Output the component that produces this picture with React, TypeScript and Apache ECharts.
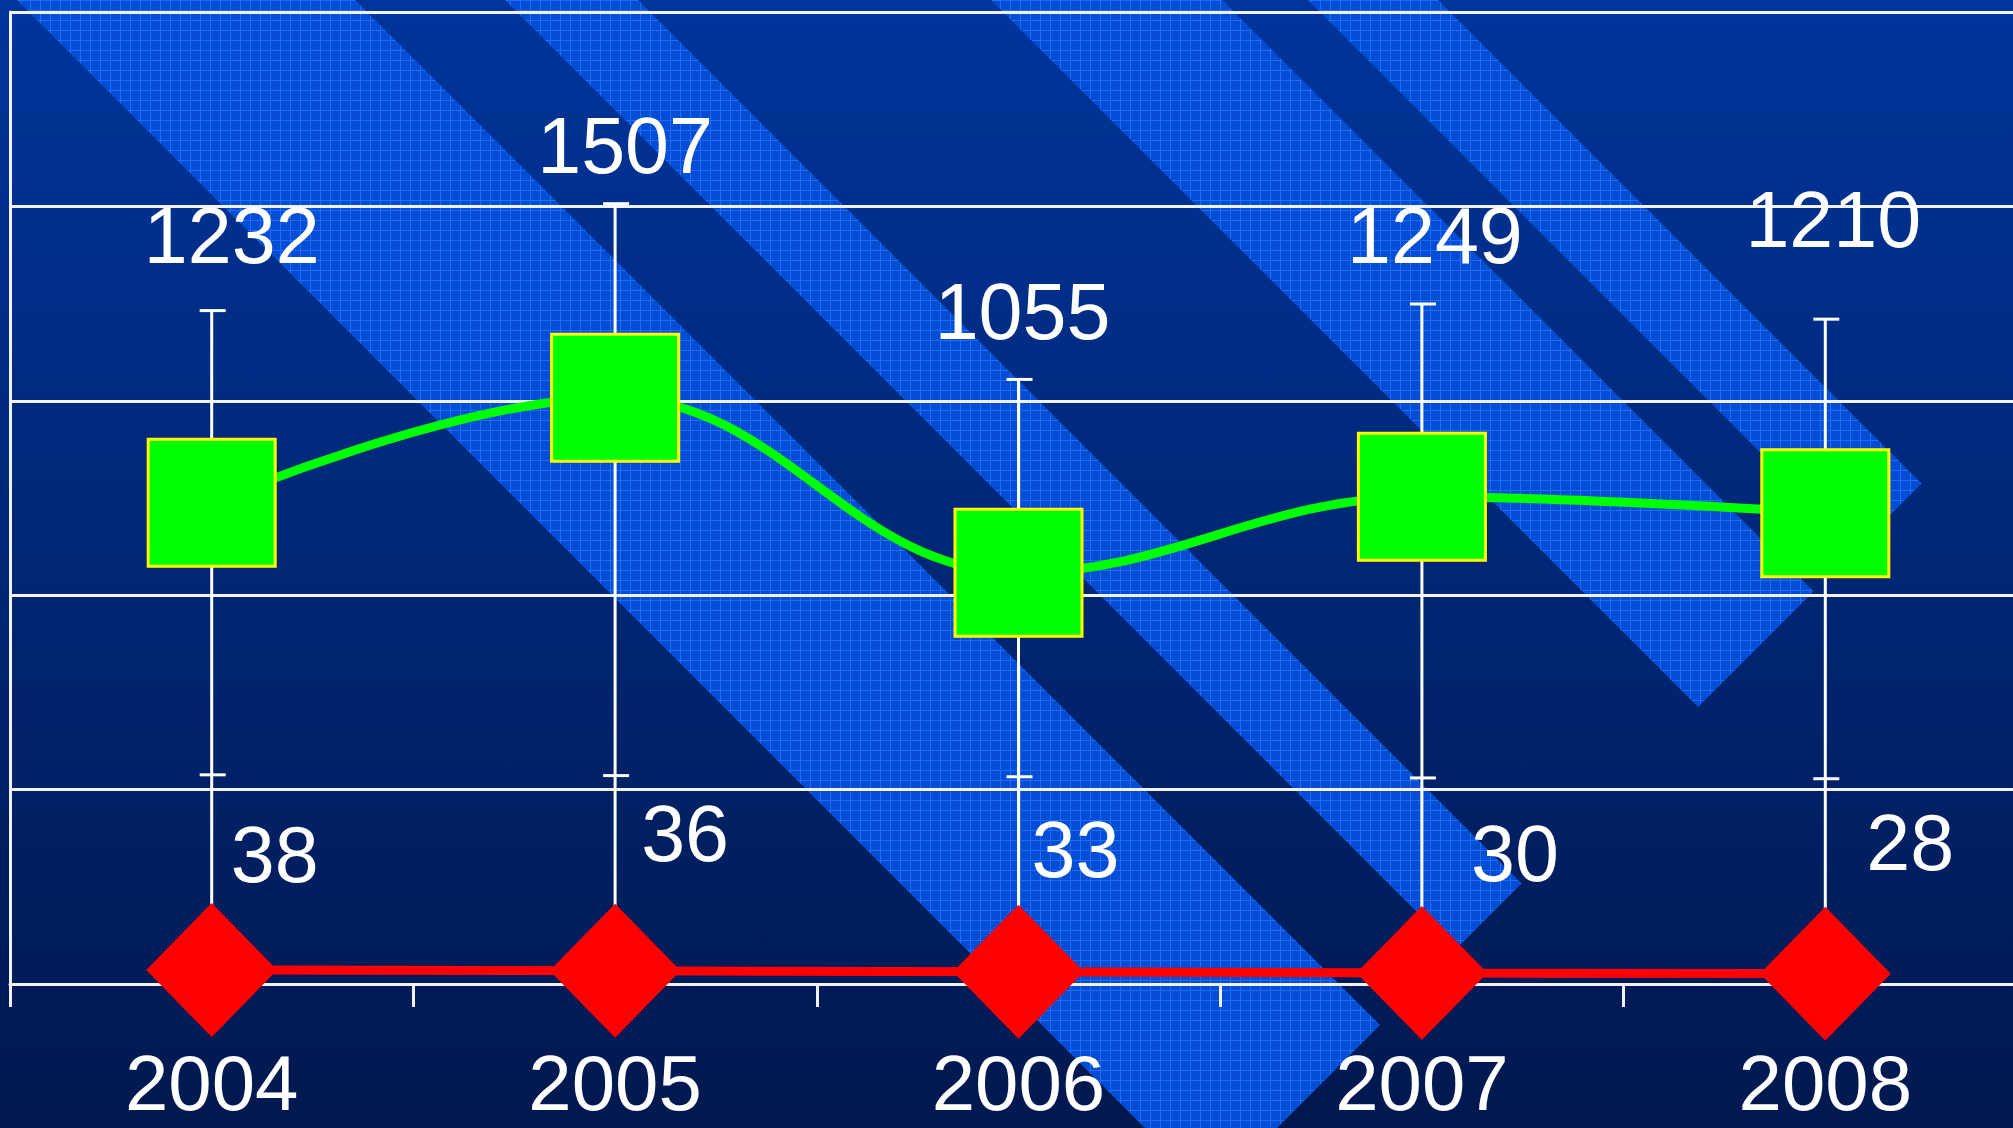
import React, { useEffect, useRef } from "react";
import * as echarts from "echarts";

// ---- data ----
const categories = ["2004", "2005", "2006", "2007", "2008"];
const highValues = [1232, 1507, 1055, 1249, 1210];
const lowValues = [38, 36, 33, 30, 28];
const greenValues = [738, 1008, 558, 753, 711];
const redValues = [38, 36, 33, 30, 28];
const yMin = -500;
const yMax = 2000;
const yInterval = 500;
const y2Max = 2640;

// ---- label layout (pixel offsets from each point) ----
const highLabelOffsets = [
  [20, -75],
  [10, -58],
  [4, -68],
  [13, -68],
  [8, -100],
];
const redLabelOffsets = [
  [63, -116],
  [70, -137],
  [57, -122],
  [93, -119],
  [85, -131],
];

// ---- decorative background stripes (x - y bands, cut at x + y = S) ----
const stripeBands = [
  [17, 355],
  [505, 638],
  [991, 1222],
  [1308, 1438],
];
const stripeCut = 2405;

function makeTile(): string {
  const c = document.createElement("canvas");
  c.width = 10;
  c.height = 10;
  const ctx = c.getContext("2d")!;
  for (let y = 0; y < 10; y++) {
    for (let x = 0; x < 10; x++) {
      ctx.fillStyle = (x + y) % 2 ? "#0654de" : "#0047cb";
      ctx.fillRect(x, y, 1, 1);
    }
  }
  ctx.fillStyle = "#1f6cf7";
  ctx.fillRect(0, 0, 10, 1);
  ctx.fillRect(0, 0, 1, 10);
  return c.toDataURL();
}

export default function App() {
  const ref = useRef<HTMLDivElement>(null);

  useEffect(() => {
    document.body.style.margin = "0";
    document.body.style.overflow = "hidden";
    if (!ref.current) return;
    const chart = echarts.init(ref.current, undefined, { renderer: "svg" });
    const tile = makeTile();
    const W = 2030;
    const H = 1128;

    const stripes = stripeBands.map(([a, b]) => ({
      type: "polygon",
      silent: true,
      z: -9,
      shape: {
        points: [
          [a, 0],
          [b, 0],
          [(stripeCut + b) / 2, (stripeCut - b) / 2],
          [(stripeCut + a) / 2, (stripeCut - a) / 2],
        ],
      },
      style: {
        fill: { image: tile, repeat: "repeat", imageWidth: 10, imageHeight: 10 },
      },
    }));

    const white = "#f2f2f2";
    const labelFont = {
      color: "#ffffff",
      opacity: 1,
      fontFamily: "Liberation Sans, Arial, sans-serif",
      fontSize: 79,
      textBorderWidth: 0,
      textShadowBlur: 0,
    };

    const option: any = {
      animation: false,
      graphic: [
        {
          type: "rect",
          silent: true,
          z: -10,
          shape: { x: 0, y: 0, width: W, height: H },
          style: {
            fill: {
              type: "linear",
              x: 0,
              y: 0,
              x2: 0,
              y2: 1,
              colorStops: [
                { offset: 0, color: "#00359c" },
                { offset: 1, color: "#00184e" },
              ],
            },
          },
        },
        ...stripes,
      ],
      grid: { left: 10, top: 12, width: 2017, height: 972, containLabel: false },
      xAxis: {
        type: "category",
        data: categories,
        boundaryGap: true,
        axisLine: { show: true, onZero: false, lineStyle: { color: white, width: 3 } },
        axisTick: { show: true, length: 23, interval: 0, lineStyle: { color: white, width: 3 } },
        axisLabel: {
          show: true,
          interval: 0,
          margin: 69,
          color: "#ffffff",
          fontFamily: "Liberation Sans, Arial, sans-serif",
          fontSize: 78,
          lineHeight: 60,
        },
        splitLine: { show: false },
      },
      yAxis: [
        {
          type: "value",
          min: yMin,
          max: yMax,
          interval: yInterval,
          axisLine: { show: true, lineStyle: { color: white, width: 3 } },
          axisTick: { show: false },
          axisLabel: { show: false },
          splitLine: { show: true, lineStyle: { color: white, width: 3 } },
        },
        {
          type: "value",
          min: 0,
          max: y2Max,
          show: false,
          splitLine: { show: false },
        },
      ],
      series: [
        {
          type: "custom",
          z: 3,
          yAxisIndex: 0,
          data: categories.map((_, i) => [i, highValues[i], lowValues[i]]),
          renderItem: (params: any, api: any) => {
            const i = api.value(0);
            const top = api.coord([i, api.value(1)]);
            const low = api.coord([i, api.value(2)]);
            const base = api.coord([i, yMin]);
            const style = { stroke: "#ffffff", lineWidth: 3 };
            return {
              type: "group",
              children: [
                { type: "line", shape: { x1: top[0], y1: top[1], x2: top[0], y2: base[1] }, style },
                { type: "line", shape: { x1: top[0] - 12, y1: top[1], x2: top[0] + 14, y2: top[1] }, style },
                { type: "line", shape: { x1: low[0] - 12, y1: low[1], x2: low[0] + 14, y2: low[1] }, style },
              ],
            };
          },
        },
        {
          type: "line",
          z: 4,
          yAxisIndex: 0,
          data: greenValues,
          smooth: 0.4,
          symbol: "rect",
          symbolSize: 127,
          lineStyle: { color: "#00ff00", width: 9 },
          itemStyle: { color: "#00ff00", borderColor: "#ffff00", borderWidth: 3 },
          label: { show: false },
        },
        {
          type: "line",
          z: 5,
          yAxisIndex: 1,
          data: redValues.map((v, i) => ({
            value: v,
            label: { offset: redLabelOffsets[i] },
          })),
          symbol: "diamond",
          symbolSize: [131, 134],
          lineStyle: { color: "#ff0000", width: 9 },
          itemStyle: { color: "#ff0000", borderWidth: 0 },
          label: { show: true, position: "inside", ...labelFont },
        },
        {
          type: "scatter",
          z: 6,
          yAxisIndex: 0,
          data: highValues.map((v, i) => ({
            value: v,
            label: { offset: highLabelOffsets[i] },
          })),
          symbol: "circle",
          symbolSize: 1,
          itemStyle: { color: "rgba(0,0,0,0)", opacity: 1 },
          label: { show: true, position: "inside", ...labelFont },
        },
      ],
    };

    chart.setOption(option);
    return () => chart.dispose();
  }, []);

  return (
    <div
      style={{
        position: "absolute",
        left: 0,
        top: 0,
        width: 2013,
        height: 1128,
        overflow: "hidden",
      }}
    >
      <div ref={ref} style={{ width: 2030, height: 1128 }} />
    </div>
  );
}
